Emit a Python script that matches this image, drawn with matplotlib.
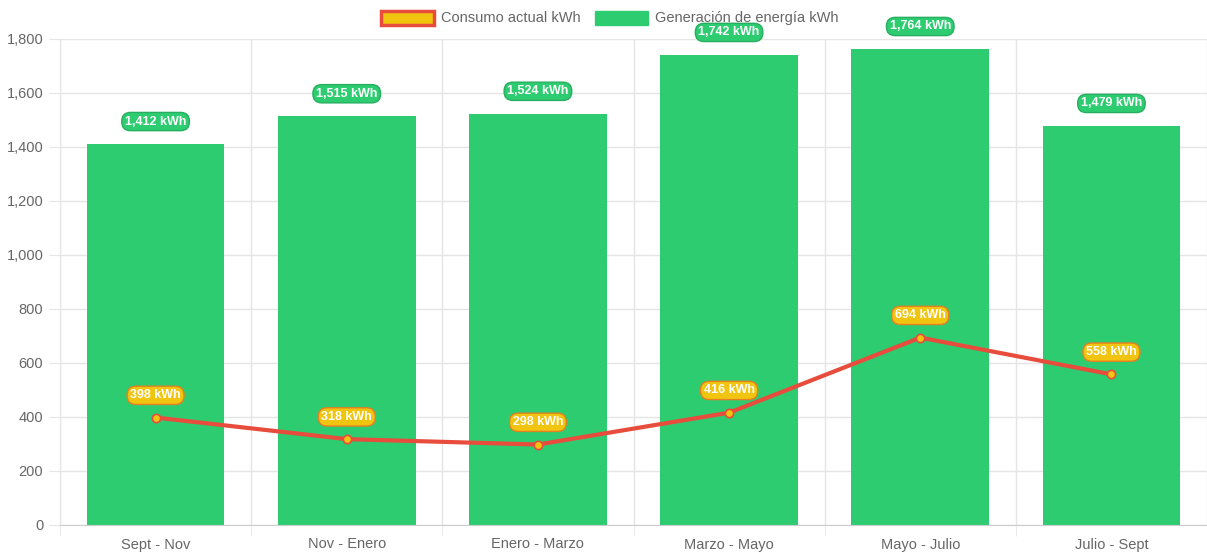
import numpy as np
import matplotlib
matplotlib.use("Agg")
import matplotlib.pyplot as plt
from matplotlib.patches import Patch

# data
periods = ["Sept - Nov", "Nov - Enero", "Enero - Marzo", "Marzo - Mayo", "Mayo - Julio", "Julio - Sept"]
generacion = [1412, 1515, 1524, 1742, 1764, 1479]
consumo = [398, 318, 298, 416, 694, 558]

GREEN = "#2ecc71"
RED = "#e74c3c"
YELLOW = "#f1c40f"
GRID = "#e5e5e5"
TXT = "#666666"

plt.rcParams["font.family"] = ["Liberation Sans", "DejaVu Sans"]

fig = plt.figure(figsize=(12.07, 5.58), dpi=100)
W, H = 1207, 558
ax = fig.add_axes([60 / W, 33 / H, (1207 - 60) / W, (525 - 39) / H])

x = np.arange(len(periods))
ax.bar(x, generacion, width=0.72, color=GREEN, zorder=2)
ax.plot(x, consumo, color=RED, lw=3, zorder=3)
ax.scatter(x, consumo, s=36, color=YELLOW, edgecolors=RED, linewidths=1.2, zorder=4)

# value labels
for xi, v in zip(x, generacion):
    ax.annotate(f"{v:,} kWh", (xi, v), xytext=(0, 16), textcoords="offset points",
                ha="center", va="center", fontsize=9, fontweight="bold", color="white",
                bbox=dict(boxstyle="round,pad=0.25,rounding_size=0.7", fc=GREEN, ec="#27ae60", lw=1),
                zorder=7, annotation_clip=False)
for xi, v in zip(x, consumo):
    ax.annotate(f"{v:,} kWh", (xi, v), xytext=(0, 16), textcoords="offset points",
                ha="center", va="center", fontsize=9, fontweight="bold", color="white",
                bbox=dict(boxstyle="round,pad=0.25,rounding_size=0.7", fc=YELLOW, ec="#e67e22", lw=1),
                zorder=7)

ax.set_xlim(-0.5, len(periods) - 0.5)
ax.set_ylim(0, 1800)
ax.set_yticks(np.arange(0, 1801, 200))
ax.yaxis.set_major_formatter(matplotlib.ticker.FuncFormatter(lambda v, p: f"{int(v):,}"))
ax.set_xticks(x)
ax.set_xticklabels(periods)
ax.set_xticks(np.arange(-0.5, len(periods)), minor=True)

ax.grid(axis="y", color=GRID, lw=1, zorder=0)
ax.grid(axis="x", which="minor", color=GRID, lw=1, zorder=0)
ax.tick_params(axis="x", which="major", length=0, pad=9, labelsize=10.5, labelcolor=TXT)
ax.tick_params(axis="x", which="minor", length=8, color=GRID)
ax.tick_params(axis="y", length=8, color=GRID, pad=4, labelsize=10.5, labelcolor=TXT)
for s in ["top", "right"]:
    ax.spines[s].set_visible(False)
ax.spines["left"].set_color(GRID)
ax.spines["bottom"].set_color("#cccccc")

handles = [Patch(facecolor=YELLOW, edgecolor=RED, lw=2.5, label="Consumo actual kWh"),
           Patch(facecolor=GREEN, edgecolor=GREEN, label="Generación de energía kWh")]
leg = ax.legend(handles=handles, loc="center", bbox_to_anchor=(610 / W, 1 - 18 / H),
                bbox_transform=fig.transFigure, ncol=2, frameon=False, fontsize=10.5,
                labelcolor=TXT, handlelength=3.6, handleheight=1.1,
                columnspacing=1.0, handletextpad=0.5)
leg.set_zorder(6)

fig.savefig("out.png", dpi=100)
